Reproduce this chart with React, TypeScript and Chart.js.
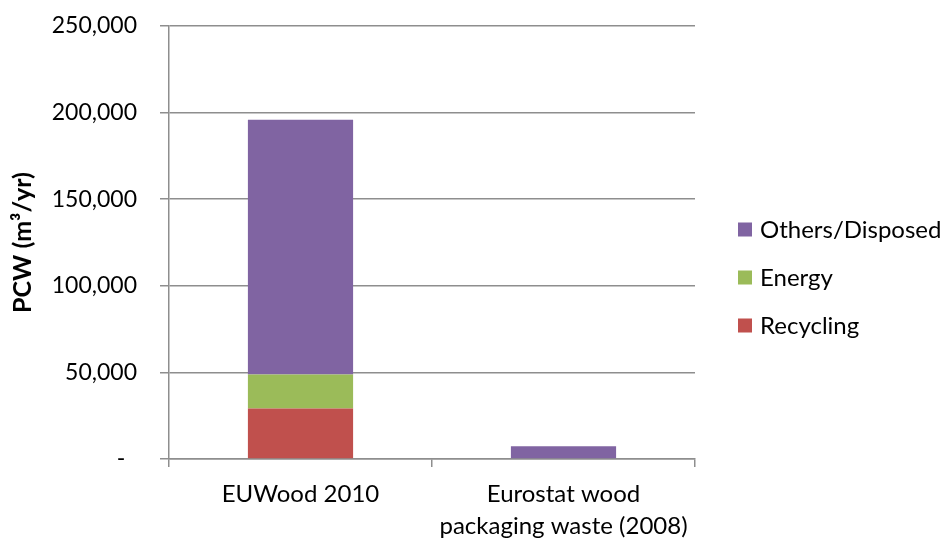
import React, { useEffect, useRef } from "react";
import { Chart, registerables } from "chart.js";

Chart.register(...registerables);

const categories: (string | string[])[] = [
  "EUWood 2010",
  ["Eurostat wood", "packaging waste (2008)"],
];

// m³ per year, stacked from the bottom up
const recycling = [29100, 0];
const energy = [19700, 0];
const othersDisposed = [147000, 7350];

const yTickValues = [0, 50000, 100000, 150000, 200000, 250000];

const FONT = "Lato, 'Open Sans', sans-serif";
const TICK_SIZE = 23;
const LABEL_SIZE = 24;
const GRID = "#8e8e8e";

const formatTick = (v: number) => (v === 0 ? "-  " : v.toLocaleString("en-US"));

// Legend drawn to the right of the plot, top item first
const sideLegend = {
  id: "sideLegend",
  afterDraw(chart: any) {
    const ctx = chart.ctx as CanvasRenderingContext2D;
    const ds = [...chart.data.datasets].reverse();
    const x = 738;
    const startY = 229.5;
    const step = 48;
    const box = 14;
    ctx.save();
    ctx.font = `${LABEL_SIZE}px ${FONT}`;
    ctx.textBaseline = "middle";
    ctx.textAlign = "left";
    ds.forEach((d: any, i: number) => {
      const cy = startY + i * step;
      ctx.fillStyle = d.backgroundColor;
      ctx.fillRect(x, cy - box / 2, box, box);
      ctx.fillStyle = "#000";
      ctx.fillText(d.label, x + 22, cy + 1);
    });
    ctx.restore();
  },
};

export default function App() {
  const ref = useRef<HTMLCanvasElement | null>(null);

  useEffect(() => {
    if (!ref.current) return;
    const chart = new Chart(ref.current, {
      type: "bar",
      data: {
        labels: categories,
        datasets: [
          { label: "Recycling", data: recycling, backgroundColor: "#C0504D" },
          { label: "Energy", data: energy, backgroundColor: "#9BBB59" },
          { label: "Others/Disposed", data: othersDisposed, backgroundColor: "#8064A2" },
        ],
      },
      options: {
        animation: false,
        responsive: true,
        maintainAspectRatio: false,
        layout: { padding: { top: 26, right: 248, bottom: 0, left: 0 } },
        datasets: {
          bar: { categoryPercentage: 1, barPercentage: 0.4, borderWidth: 0 },
        },
        plugins: {
          legend: { display: false },
          tooltip: { enabled: false },
        },
        scales: {
          x: {
            stacked: true,
            afterFit: (s: any) => {
              s.height = 81;
            },
            grid: {
              offset: true,
              drawOnChartArea: false,
              drawTicks: true,
              tickLength: 8,
              color: GRID,
              lineWidth: 1.5,
            },
            border: { display: true, color: GRID, width: 1.5 },
            ticks: {
              color: "#000",
              padding: 11,
              maxRotation: 0,
              autoSkip: false,
              font: { family: FONT, size: LABEL_SIZE, lineHeight: 1.34 },
            },
          },
          y: {
            stacked: true,
            min: 0,
            max: 250000,
            afterFit: (s: any) => {
              s.width = 169;
              s.paddingTop = 0;
              s.paddingBottom = 0;
            },
            afterBuildTicks: (s: any) => {
              s.ticks = yTickValues.map((v) => ({ value: v }));
            },
            grid: {
              drawTicks: true,
              tickLength: 9,
              color: GRID,
              lineWidth: 1.5,
            },
            border: { display: true, color: GRID, width: 1.5 },
            ticks: {
              color: "#000",
              padding: 23,
              font: { family: FONT, size: TICK_SIZE },
              callback: (v: any) => formatTick(Number(v)),
            },
            title: {
              display: true,
              text: "PCW (m³/yr)",
              color: "#000",
              padding: { top: 8, bottom: 0 },
              font: { family: FONT, size: 25, weight: "bold" },
            },
          },
        },
      },
      plugins: [sideLegend],
    });
    return () => chart.destroy();
  }, []);

  return (
    <div style={{ position: "fixed", left: 0, top: 0, width: 943, height: 540, background: "#fff" }}>
      <canvas ref={ref} />
    </div>
  );
}
